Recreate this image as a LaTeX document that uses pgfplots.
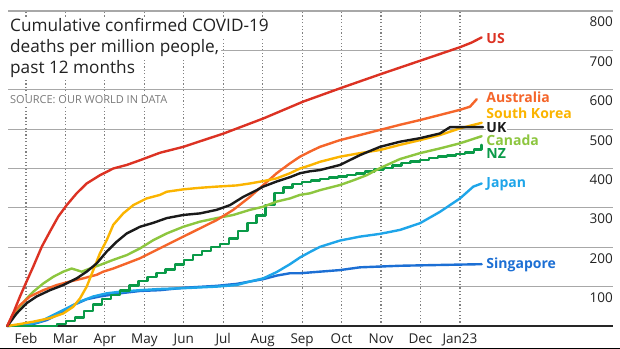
\documentclass[border=0pt]{standalone}
\usepackage{fontspec}
\setmainfont{Open Sans}
\usepackage{pgfplots}
\pgfplotsset{compat=1.18}
\definecolor{cUS}{HTML}{DC3223}
\definecolor{cAU}{HTML}{F5652A}
\definecolor{cSK}{HTML}{FBB400}
\definecolor{cUK}{HTML}{1A1A1A}
\definecolor{cCA}{HTML}{8DC63F}
\definecolor{cNZ}{HTML}{0A9A48}
\definecolor{cJP}{HTML}{1EA5E9}
\definecolor{cSG}{HTML}{1C6FD4}
\definecolor{ctxt}{HTML}{222222}
\definecolor{cgrid}{HTML}{A8A8A8}
\begin{document}
\begin{tikzpicture}
\useasboundingbox (0,0) rectangle (620bp,349bp);
\begin{axis}[
  at={(8bp,23bp)}, anchor=south west,
  scale only axis, width=605bp, height=315bp,
  xmin=-0.456, xmax=14.88, ymin=0, ymax=800,
  axis line style={draw=none},
  major tick length=0pt,
  xtick={0,1,...,11},
  xticklabels={Feb,Mar,Apr,May,Jun,Jul,Aug,Sep,Oct,Nov,Dec,Jan23},
  ytick={0,100,...,800},
  yticklabels={,100,200,300,400,500,600,700,800},
  grid=major,
  major grid style={color=black!50, line width=1.2bp, dash pattern=on 1.2bp off 2.2bp},
  y grid style={solid, color=cgrid, line width=1.2bp},
  /pgf/number format/assume math mode=true,
  yticklabel pos=right,
  xticklabel style={font=\fontsize{13.5bp}{16bp}\selectfont, text=ctxt, anchor=base, inner sep=0pt, yshift=-17bp},
  yticklabel style={font=\fontsize{13.5bp}{16bp}\selectfont, text=ctxt, anchor=north east, inner sep=0pt, yshift=-6bp},
  every axis plot/.append style={line width=2.4bp, line join=round, line cap=round},
  clip=false,
]
\addplot[black!85, line width=1.3bp, line cap=butt] coordinates {(-0.456,0)(14.88,0)};
% Singapore
\addplot[cSG] coordinates {(-0.474,0)(0.185,5)(0.525,15)(0.862,32)(1.199,53)(1.539,68)(1.876,75)(2.383,83)(2.890,89)(3.397,91)(3.987,97)(4.834,102)(5.341,107)(5.678,113)(6.015,119)(6.355,128)(6.692,134)(6.945,134)(7.452,138)(7.959,142)(8.466,149)(8.973,151)(9.480,153)(10.494,155)(11.551,157)};
% Japan
\addplot[cJP] coordinates {(-0.474,0)(0.018,3)(0.355,11)(0.692,28)(1.032,45)(1.369,62)(1.706,75)(2.046,83)(2.383,87)(2.890,91)(3.397,94)(3.987,96)(4.834,100)(5.341,104)(5.678,113)(6.015,121)(6.355,137)(6.692,157)(6.945,174)(7.199,188)(7.452,201)(7.959,217)(8.466,227)(8.973,234)(9.480,244)(9.987,261)(10.494,290)(11.001,324)(11.339,354)(11.551,362)};
% NZ
\addplot[cNZ, const plot] coordinates {(-0.474,0)(0.55,0)(0.78,5)(1.01,12)(1.24,22)(1.47,38)(1.70,55)(1.93,68)(2.16,78)(2.39,90)(2.62,103)(2.85,114)(3.08,125)(3.31,134)(3.54,144)(3.77,156)(4.00,168)(4.23,180)(4.46,191)(4.69,200)(4.92,209)(5.15,222)(5.38,242)(5.61,262)(5.84,281)(6.07,308)(6.30,338)(6.53,352)(6.76,360)(6.99,365)(7.22,370)(7.45,373)(7.68,377)(7.91,380)(8.14,384)(8.37,387)(8.60,392)(8.83,397)(9.06,402)(9.29,408)(9.52,414)(9.75,418)(9.98,422)(10.21,426)(10.44,430)(10.67,433)(10.90,437)(11.13,441)(11.36,448)(11.55,460)};
% Canada
\addplot[cCA] coordinates {(-0.474,0)(-0.322,24)(-0.152,49)(0.018,70)(0.185,87)(0.439,108)(0.692,125)(0.946,138)(1.158,146)(1.285,142)(1.412,138)(1.622,146)(1.876,155)(2.213,168)(2.553,180)(2.890,197)(3.227,218)(3.567,235)(3.987,252)(4.411,265)(4.834,274)(5.255,282)(5.678,295)(6.015,303)(6.355,316)(6.692,324)(6.945,333)(7.199,337)(7.452,345)(7.959,358)(8.3,370)(8.636,383)(8.973,401)(9.480,424)(9.987,439)(10.494,451)(11.001,464)(11.551,482)};
% Australia
\addplot[cAU] coordinates {(-0.474,0)(-0.322,32)(-0.152,53)(0.101,75)(0.439,91)(0.778,104)(1.115,113)(1.452,121)(1.792,130)(1.959,138)(2.213,146)(2.553,159)(2.890,172)(3.227,189)(3.567,206)(3.987,227)(4.411,248)(4.834,269)(5.255,295)(5.678,328)(6.015,358)(6.355,388)(6.692,413)(6.945,430)(7.199,443)(7.452,455)(7.959,472)(8.466,485)(8.973,498)(9.480,511)(9.987,523)(10.494,536)(11.001,549)(11.255,557)(11.425,576)};
% South Korea
\addplot[cSK] coordinates {(-0.474,0)(-0.152,5)(0.185,11)(0.608,20)(0.946,32)(1.199,49)(1.369,70)(1.539,100)(1.706,142)(1.876,185)(2.046,218)(2.213,257)(2.466,286)(2.720,307)(3.060,324)(3.397,333)(3.567,341)(3.987,347)(4.411,351)(4.834,354)(5.341,357)(5.678,362)(6.015,368)(6.355,375)(6.692,388)(6.945,400)(7.199,408)(7.452,417)(7.959,430)(8.466,439)(8.973,447)(9.480,460)(9.987,472)(10.494,485)(11.001,502)(11.551,516)};
% UK
\addplot[cUK] coordinates {(-0.474,0)(-0.236,32)(0.018,58)(0.271,75)(0.608,91)(0.946,104)(1.285,121)(1.539,138)(1.792,159)(2.046,189)(2.299,214)(2.553,235)(2.890,252)(3.227,262)(3.567,274)(3.987,282)(4.411,286)(4.834,295)(5.171,307)(5.508,328)(5.848,345)(6.015,354)(6.355,367)(6.692,378)(6.945,388)(7.199,393)(7.452,396)(7.959,409)(8.466,434)(8.973,455)(9.480,468)(9.987,477)(10.494,489)(10.748,505)(11.001,505)(11.584,505)};
% US
\addplot[cUS] coordinates {(-0.474,0)(-0.322,33)(-0.152,75)(-0.025,104)(0.185,151)(0.398,201)(0.608,240)(0.819,278)(1.032,307)(1.285,337)(1.539,362)(1.876,383)(2.213,400)(2.553,409)(2.890,421)(3.397,440)(3.987,455)(5.013,489)(6.015,527)(7.029,570)(8.0,605)(9.0,640)(10.0,674)(11.0,708)(11.3,720)(11.55,733)};
\begin{scope}[every node/.style={anchor=west, inner sep=0.3bp, fill=white, font=\fontsize{14bp}{16bp}\selectfont\bfseries}]
\node[text=cUS] at (axis cs:11.66,731) {US};
\node[text=cAU] at (axis cs:11.66,582) {Australia};
\node[text=cSK] at (axis cs:11.66,541) {South Korea};
\node[text=cUK] at (axis cs:11.66,505) {UK};
\node[text=cCA] at (axis cs:11.66,472) {Canada};
\node[text=cNZ] at (axis cs:11.66,437) {NZ};
\node[text=cJP] at (axis cs:11.66,361) {Japan};
\node[text=cSG] at (axis cs:11.66,155) {Singapore};
\end{scope}
\end{axis}
\begin{scope}[every node/.style={anchor=base west, fill=white, inner ysep=0pt, inner xsep=2bp, text=ctxt, text height=15bp, text depth=6bp, font=\fontsize{17.2bp}{21bp}\selectfont}]
\node at (8bp,317bp) {Cumulative confirmed COVID-19};
\node at (8bp,296bp) {deaths per million people,};
\node at (8bp,275bp) {past 12 months};
\end{scope}
\node[anchor=base west, fill=white, inner ysep=0pt, inner xsep=2bp, text=black!52, text height=9bp, text depth=3bp, font=\fontsize{11bp}{13bp}\selectfont] at (8bp,245bp) {SOURCE: OUR WORLD IN DATA};
\draw[line width=1.5bp, black] (0,0.75bp) -- (620bp,0.75bp);
\end{tikzpicture}
\end{document}
